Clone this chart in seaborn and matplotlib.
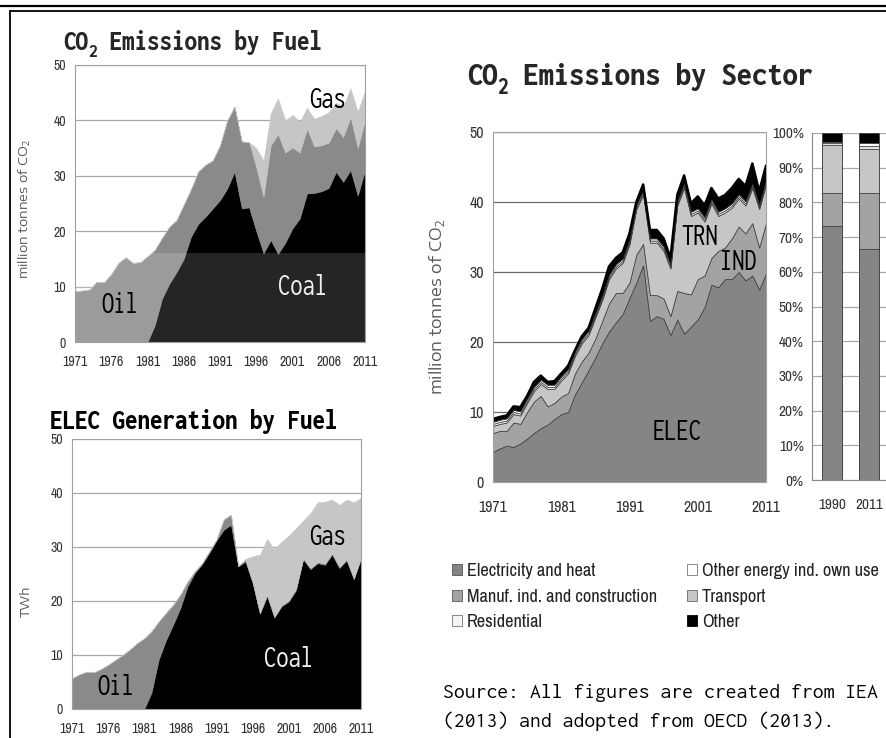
import os
import re
import numpy as np
import matplotlib
matplotlib.use("Agg")
import matplotlib.pyplot as plt
from matplotlib import font_manager as fm
from matplotlib.font_manager import FontProperties
from matplotlib.lines import Line2D
from matplotlib.patches import Patch
from matplotlib.ticker import MultipleLocator, FixedLocator, PercentFormatter
import seaborn as sns

# ---------------- data ----------------
years = list(range(1971, 2012))

# CO2 emissions by fuel (million tonnes of CO2)
co2_coal = [0, 0, 0, 0, 0, 0, 0, 0, 0, 0, 0, 3.0, 7.8, 10.5, 12.6, 15.0, 19.0, 21.3, 22.6, 24.1,
            25.6, 27.7, 30.7, 24.1, 24.3, 20.0, 16.0, 18.4, 15.9, 17.9, 20.5, 22.3, 26.8, 26.9, 27.2,
            27.8, 30.7, 28.9, 31.0, 26.4, 31.0]
co2_oil = [9.2, 9.3, 9.5, 10.9, 10.8, 12.3, 14.3, 15.3, 14.3, 14.4, 15.5, 13.6, 11.0, 10.3, 9.4,
           9.8, 8.6, 9.5, 9.4, 8.7, 9.9, 12.3, 11.8, 12.1, 11.8, 11.5, 10.2, 17.1, 21.6, 16.3, 14.6,
           11.9, 11.7, 8.4, 8.3, 8.2, 7.9, 8.1, 9.6, 8.6, 9.0]
co2_gas = [0, 0, 0, 0, 0, 0, 0, 0, 0, 0, 0, 0, 0, 0, 0, 0, 0, 0, 0, 0, 0, 0, 0, 0, 0, 3.5, 6.6,
           5.8, 6.5, 5.8, 5.9, 5.6, 3.8, 5.0, 5.3, 5.5, 4.6, 5.5, 5.2, 6.6, 5.3]

# Electricity generation by fuel (TWh)
elec_coal = [0, 0, 0, 0, 0, 0, 0, 0, 0, 0, 0, 3.0, 9.1, 12.7, 15.6, 18.7, 22.7, 25.2, 26.8, 28.9,
             31.2, 33.2, 34.1, 26.4, 27.3, 23.3, 17.6, 20.9, 16.9, 19.0, 19.9, 22.0, 27.7, 25.9, 27.0,
             26.7, 28.6, 26.1, 27.5, 24.0, 27.8]
elec_oil = [5.7, 6.4, 6.9, 6.8, 7.4, 8.2, 9.1, 10.0, 11.0, 12.2, 13.1, 11.4, 7.1, 5.1, 3.7, 2.5,
            0.9, 0.3, 0.2, 0.3, 0.2, 1.9, 1.9, 0.1, 0.3, 0.2, 0.2, 0.2, 0.2, 0.2, 0.2, 0.2, 0.2, 0.2,
            0.2, 0.2, 0.2, 0.2, 0.2, 0.2, 0.2]
elec_gas = [0, 0, 0, 0, 0, 0, 0, 0, 0, 0, 0, 0, 0, 0, 0, 0, 0, 0, 0, 0, 0, 0, 0, 0, 0.2, 4.8,
            10.8, 10.4, 12.5, 11.8, 12.0, 11.3, 7.0, 10.2, 11.1, 11.5, 10.0, 11.5, 11.1, 14.1, 11.1]

# CO2 emissions by sector (million tonnes of CO2)
sec_elec = [4.3, 4.8, 5.2, 5.0, 5.5, 6.2, 7.0, 7.7, 8.2, 9.0, 9.7, 10.0, 12.5, 14.2, 16.0, 17.8,
            19.8, 21.5, 22.8, 24.0, 26.3, 28.5, 31.0, 23.0, 23.7, 23.3, 21.0, 23.2, 21.2, 22.2, 23.2,
            25.0, 28.2, 27.8, 29.0, 29.0, 30.0, 28.8, 29.5, 27.5, 29.8]
sec_ind = [2.7, 2.5, 2.1, 3.5, 2.8, 3.8, 4.5, 4.6, 2.6, 2.3, 2.5, 2.7, 3.0, 3.0, 2.5, 2.7, 3.2,
           4.0, 4.2, 3.0, 2.2, 4.0, 3.0, 3.7, 3.0, 2.9, 2.7, 4.1, 5.8, 4.6, 5.8, 4.5, 3.8, 5.2, 4.5,
           5.8, 6.5, 6.7, 7.5, 6.0, 7.2]
sec_trn = [1.0, 1.0, 1.2, 1.2, 1.2, 1.3, 1.5, 1.7, 2.5, 2.0, 2.3, 2.8, 2.5, 2.6, 2.5, 3.0, 3.0,
           3.5, 3.5, 4.3, 5.5, 6.5, 7.0, 7.5, 7.5, 6.8, 6.8, 12.2, 15.0, 11.2, 9.5, 7.7, 7.8, 5.0,
           5.0, 4.4, 4.0, 4.0, 5.0, 5.5, 5.5]
sec_res = [0.3] * 41
sec_own = [0.3] * 41
sec_oth = [0.4, 0.4, 0.4, 0.5, 0.6, 0.4, 0.7, 0.6, 0.4, 0.5, 0.4, 0.5, 0.2, 0.4, 0.4, 0.7, 1.0,
           1.2, 0.9, 0.9, 0.9, 0.4, 0.9, 1.2, 1.2, 1.2, 0.9, 0.9, 1.2, 1.2, 1.7, 1.7, 1.6, 1.9, 1.9,
           2.2, 2.2, 2.2, 2.9, 1.9, 2.1]

# sector shares (%) for 1990 and 2011
bar_years = ["1990", "2011"]
share_elec = [73.2, 66.5]
share_manuf = [9.6, 16.3]
share_trn = [13.7, 12.5]
share_res = [0.5, 1.0]
share_own = [0.5, 0.7]
share_oth = [2.5, 3.0]

legend_labels = ["Electricity and heat", "Manuf. ind. and construction", "Residential",
                 "Other energy ind. own use", "Transport", "Other"]

# ---------------- style ----------------
sns.set_style("white")
plt.rcParams["font.family"] = ["Archivo Narrow", "Liberation Sans", "DejaVu Sans"]
plt.rcParams["axes.linewidth"] = 0.8

C_ELEC, C_IND, C_TRN, C_RES, C_OWN, C_OTH = "#858585", "#a3a3a3", "#c6c6c6", "#e4e4e4", "#ffffff", "#000000"
C_COAL, C_OIL, C_GAS = "#000000", "#8a8a8a", "#c6c6c6"
TICK_C = "#333333"
SPINE_C = "#a0a0a0"


def mono_font(weights, width):
    """Pick an Inconsolata file of the requested weight / width."""
    def key(f):
        return re.sub("[^a-z]", "", os.path.basename(f.fname).lower())
    for weight in weights:
        cands = [f for f in fm.fontManager.ttflist if f.name == "Inconsolata"
                 and f.style == "normal" and f.weight == weight]
        for f in cands:
            k = key(f)
            if width == "normal":
                ok = "condensed" not in k and "expanded" not in k
            elif width == "semi":
                ok = "semicondensed" in k
            else:
                ok = "condensed" in k and not any(s in k for s in ("semi", "extra", "ultra"))
            if ok:
                return FontProperties(fname=f.fname)
    return FontProperties(family=["Inconsolata", "DejaVu Sans Mono"], weight=weights[0])


FP_TITLE = mono_font([800, 700], "semi")
FP_LABEL = mono_font([400], "cond")
FP_SRC = mono_font([400], "normal")
EXP = ["Encode Sans Expanded", "Liberation Sans", "DejaVu Sans"]
YLAB = "million tonnes of CO$_\\mathregular{2}$"

W, H, DPI = 887, 738, 100
fig = plt.figure(figsize=(W / DPI, H / DPI), dpi=DPI)
fig.patch.set_facecolor("white")


def px_axes(x0, y0, x1, y1):
    return fig.add_axes([x0 / W, 1 - y1 / H, (x1 - x0) / W, (y1 - y0) / H])


def fx(px):
    return px / W


def fy(py):
    return 1 - py / H


def style_time_axes(ax, grid_c, major, lab_size):
    ax.set_xlim(1971, 2011)
    ax.set_ylim(0, 50)
    ax.set_facecolor("white")
    for s in ax.spines.values():
        s.set_visible(True)
        s.set_color(SPINE_C)
        s.set_linewidth(0.8)
    ax.yaxis.set_major_locator(MultipleLocator(10))
    ax.xaxis.set_major_locator(FixedLocator(major))
    ax.xaxis.set_minor_locator(MultipleLocator(1))
    ax.yaxis.grid(True, color=grid_c, lw=0.9)
    ax.xaxis.grid(False)
    ax.set_axisbelow(True)
    ax.tick_params(axis="both", which="both", direction="out", color="#888888", width=0.8,
                   labelsize=lab_size, labelcolor=TICK_C)
    ax.tick_params(axis="x", which="both", length=3.5)
    ax.tick_params(axis="y", which="major", length=3.5)
    ax.tick_params(axis="x", which="major", pad=6)
    ax.tick_params(axis="y", which="major", pad=3)


def title_text(x, y, pre, sub, post, size):
    """CO2-style title with a lowered subscript digit."""
    r = fig.canvas.get_renderer()
    t1 = fig.text(x, y, pre, fontproperties=FP_TITLE, fontsize=size, va="baseline", ha="left")
    x2 = t1.get_window_extent(r).x1 / W
    drop = 0.26 * size * DPI / 72 / H
    t2 = fig.text(x2, y - drop, sub, fontproperties=FP_TITLE, fontsize=size * 0.7,
                  va="baseline", ha="left")
    x3 = t2.get_window_extent(r).x1 / W
    fig.text(x3, y, post, fontproperties=FP_TITLE, fontsize=size, va="baseline", ha="left")


# ---------------- CO2 emissions by fuel ----------------
ax1 = px_axes(75, 65, 365, 342)
ax1.stackplot(years, co2_coal, co2_oil, co2_gas, colors=[C_COAL, C_OIL, C_GAS],
              edgecolor="face", linewidth=0.3, zorder=1)
ax1.axhspan(0, 16, facecolor="white", alpha=0.15, lw=0, zorder=2)
style_time_axes(ax1, "#a8a8a8", [1971, 1976, 1981, 1986, 1991, 1996, 2001, 2006, 2011], 10)
ax1.text(1977.2, 6.6, "Oil", fontproperties=FP_LABEL, fontsize=22, ha="center", va="center",
         color="black", zorder=3)
ax1.text(2002.4, 9.9, "Coal", fontproperties=FP_LABEL, fontsize=22, ha="center", va="center",
         color="#eeeeee", zorder=3)
ax1.text(2005.8, 43.7, "Gas", fontproperties=FP_LABEL, fontsize=22, ha="center", va="center",
         color="black", zorder=3)
fig.text(fx(25), fy(209), YLAB, rotation=90, ha="center", va="center",
         family=EXP, fontsize=9.5, color="#555555")

# ---------------- Electricity generation by fuel ----------------
ax2 = px_axes(72, 439, 361, 709)
ax2.stackplot(years, elec_coal, elec_oil, elec_gas, colors=[C_COAL, C_OIL, C_GAS],
              edgecolor="face", linewidth=0.3, zorder=1)
style_time_axes(ax2, "#a8a8a8", [1971, 1976, 1981, 1986, 1991, 1996, 2001, 2006, 2011], 10)
ax2.text(1977.1, 4.1, "Oil", fontproperties=FP_LABEL, fontsize=22, ha="center", va="center",
         color="black", zorder=3)
ax2.text(2000.9, 9.3, "Coal", fontproperties=FP_LABEL, fontsize=22, ha="center", va="center",
         color="#eeeeee", zorder=3)
ax2.text(2006.3, 31.9, "Gas", fontproperties=FP_LABEL, fontsize=22, ha="center", va="center",
         color="black", zorder=3)
fig.text(fx(26), fy(601), "TWh", rotation=90, ha="center", va="center",
         family=EXP, fontsize=9, color="#555555")

# ---------------- CO2 emissions by sector ----------------
ax3 = px_axes(493, 132, 766, 482)
ax3.stackplot(years, sec_elec, sec_ind, sec_trn, sec_res, sec_own, sec_oth,
              colors=[C_ELEC, C_IND, C_TRN, C_RES, C_OWN, C_OTH],
              edgecolor="#3a3a3a", linewidth=0.5, zorder=1)
sec_total = np.sum([sec_elec, sec_ind, sec_trn, sec_res, sec_own, sec_oth], axis=0)
sns.lineplot(x=years, y=sec_total, color="black", lw=1.8, ax=ax3, zorder=2)
style_time_axes(ax3, "#6a6a6a", [1971, 1981, 1991, 2001, 2011], 11.5)
ax3.tick_params(axis="x", which="major", pad=9)
ax3.tick_params(axis="x", which="both", length=4)
ax3.set_xlabel("")
ax3.set_ylabel("")
ax3.text(2001.3, 35.0, "TRN", fontproperties=FP_LABEL, fontsize=22, ha="center", va="center",
         color="black", zorder=3)
ax3.text(2007.0, 31.4, "IND", fontproperties=FP_LABEL, fontsize=22, ha="center", va="center",
         color="black", zorder=3)
ax3.text(1998.0, 7.1, "ELEC", fontproperties=FP_LABEL, fontsize=22, ha="center", va="center",
         color="black", zorder=3)
fig.text(fx(437), fy(307), YLAB, rotation=90, ha="center", va="center",
         family=EXP, fontsize=12, color="#555555")

# ---------------- shares 1990 / 2011 ----------------
ax4 = px_axes(812, 133, 889, 480)
bar_layers = [(share_elec, C_ELEC), (share_manuf, C_IND), (share_trn, C_TRN),
              (share_res, C_RES), (share_own, C_OWN), (share_oth, C_OTH)]
cum = np.zeros(2)
cums = []
for vals, col in bar_layers:
    cum = cum + np.asarray(vals, dtype=float)
    cums.append((cum.copy(), col))
for c, col in reversed(cums):
    sns.barplot(x=bar_years, y=c, color=col, saturation=1, width=0.54, edgecolor="#404040",
                linewidth=0.6, errorbar=None, ax=ax4, zorder=2)
ax4.set_xlim(-0.54, 1.54)
ax4.set_ylim(0, 100)
ax4.set_facecolor("white")
ax4.yaxis.set_major_locator(MultipleLocator(10))
ax4.yaxis.set_major_formatter(PercentFormatter(decimals=0))
ax4.yaxis.grid(True, color="#a8a8a8", lw=0.9)
ax4.set_axisbelow(True)
for s in ("top", "right"):
    ax4.spines[s].set_visible(False)
for s in ("left", "bottom"):
    ax4.spines[s].set_visible(True)
    ax4.spines[s].set_color("#888888")
ax4.set_xticks([0, 1])
ax4.set_xticklabels(bar_years)
ax4.xaxis.set_minor_locator(FixedLocator([0.5]))
ax4.tick_params(axis="x", which="major", length=0, pad=13, labelsize=11, labelcolor=TICK_C)
ax4.tick_params(axis="x", which="minor", length=4, direction="out", color="#888888")
ax4.tick_params(axis="y", which="major", length=3, direction="out", color="#888888", pad=3,
                labelsize=11, labelcolor=TICK_C)
ax4.set_xlabel("")
ax4.set_ylabel("")

# ---------------- legend ----------------
handles = [Patch(facecolor=C_ELEC, edgecolor="#555555", lw=0.6),
           Patch(facecolor=C_IND, edgecolor="#555555", lw=0.6),
           Patch(facecolor="#f4f4f4", edgecolor="#777777", lw=0.6),
           Patch(facecolor="#ffffff", edgecolor="#777777", lw=0.6),
           Patch(facecolor=C_TRN, edgecolor="#666666", lw=0.6),
           Patch(facecolor=C_OTH, edgecolor="#000000", lw=0.6)]
fig.legend(handles, legend_labels, ncol=2, loc="upper left",
           bbox_to_anchor=(fx(452), fy(563)), frameon=False, fontsize=13.2,
           handlelength=0.55, handleheight=0.55, handletextpad=0.25, labelspacing=0.52,
           columnspacing=1.65, borderpad=0, borderaxespad=0, labelcolor="#222222")

# ---------------- titles & source ----------------
title_text(fx(63), fy(50), "CO", "2", " Emissions by Fuel", 20)
fig.text(fx(50), fy(429), "ELEC Generation by Fuel", fontproperties=FP_TITLE, fontsize=20,
         va="baseline", ha="left", color="black")
title_text(fx(467), fy(85), "CO", "2", " Emissions by Sector", 24.5)

fig.text(fx(443), fy(698), "Source: All figures are created from IEA", fontproperties=FP_SRC,
         fontsize=15.6, va="baseline", ha="left", color="black")
fig.text(fx(443), fy(727), "(2013) and adopted from OECD (2013).", fontproperties=FP_SRC,
         fontsize=15.6, va="baseline", ha="left", color="black")

# ---------------- slide frame ----------------
fig.add_artist(Line2D([0, 1], [fy(6), fy(6)], transform=fig.transFigure, color="black", lw=1.6))
fig.add_artist(Line2D([fx(10), 1], [fy(11), fy(11)], transform=fig.transFigure, color="black", lw=1.3))
fig.add_artist(Line2D([fx(10), fx(10)], [fy(11), 0], transform=fig.transFigure, color="black", lw=1.3))

fig.savefig("out.png", dpi=DPI, facecolor="white")
